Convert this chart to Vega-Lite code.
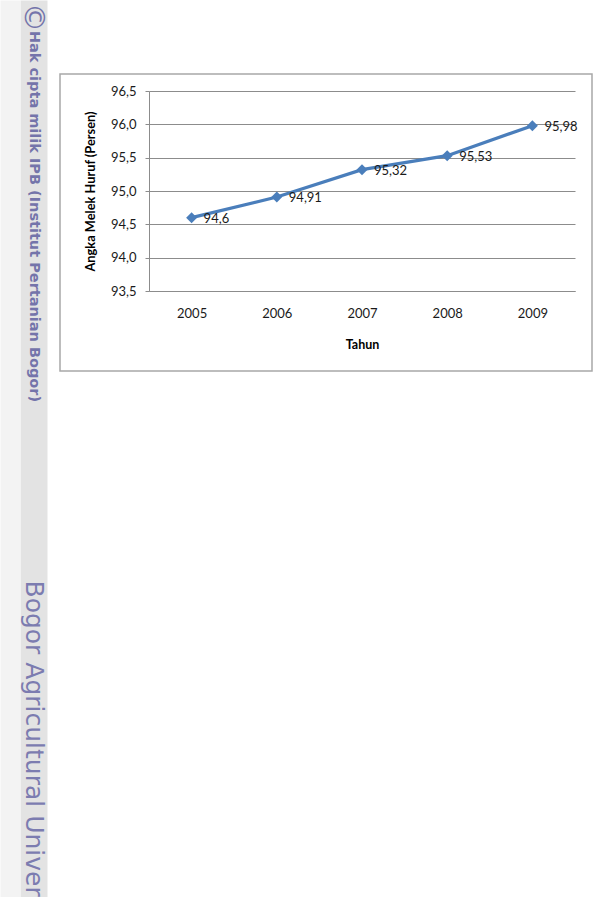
{
  "$schema": "https://vega.github.io/schema/vega-lite/v6.json",
  "width": 532,
  "height": 297,
  "autosize": {"type": "none"},
  "padding": {"left": 60, "top": 74, "right": 8, "bottom": 526},
  "background": "#ffffff",
  "view": {"stroke": "#a8a8a8", "strokeWidth": 1.5, "fill": null},
  "config": {
    "font": "Lato",
    "locale": {"number": {"decimal": ",", "thousands": ".", "grouping": [3], "currency": ["Rp", ""]}}
  },
  "data": {
    "values": [
      {"tahun": "2005", "nilai": 94.6},
      {"tahun": "2006", "nilai": 94.91},
      {"tahun": "2007", "nilai": 95.32},
      {"tahun": "2008", "nilai": 95.53},
      {"tahun": "2009", "nilai": 95.98}
    ]
  },
  "layer": [
    {
      "mark": {"type": "line", "color": "#4a7ebb", "strokeWidth": 3.2,
               "point": {"shape": "diamond", "size": 120, "filled": true, "color": "#4a7ebb", "opacity": 1}},
      "encoding": {
        "x": {
          "field": "tahun", "type": "ordinal",
          "scale": {"type": "point", "domain": ["2005", "2006", "2007", "2008", "2009"], "range": [89, 515], "padding": 0.5},
          "axis": {"orient": "bottom", "offset": -80, "grid": false, "ticks": false, "tickSize": 0,
                   "domain": true, "domainColor": "#8c8c8c", "domainWidth": 1,
                   "labelFont": "Lato", "labelFontSize": 13, "labelColor": "#1a1a1a", "labelPadding": 16, "labelAngle": 0,
                   "title": "Tahun", "titleFont": "Lato", "titleFontSize": 12.5, "titleFontWeight": "bold", "titleColor": "#000000", "titlePadding": 18}
        },
        "y": {
          "field": "nilai", "type": "quantitative",
          "scale": {"domain": [93.5, 96.5], "range": [217, 17], "nice": false, "zero": false},
          "axis": {"orient": "left", "offset": -89, "values": [93.5, 94, 94.5, 95, 95.5, 96, 96.5], "format": ".1f",
                   "grid": true, "gridColor": "#8c8c8c", "gridWidth": 1,
                   "domain": true, "domainColor": "#8c8c8c", "domainWidth": 1,
                   "ticks": true, "tickSize": 4, "tickColor": "#8c8c8c", "tickWidth": 1,
                   "labelFont": "Lato", "labelFontSize": 13, "labelColor": "#1a1a1a", "labelPadding": 9,
                   "title": "Angka Melek Huruf (Persen)", "titleFont": "Lato", "titleFontSize": 12.8, "titleFontWeight": "bold", "titleColor": "#000000", "titlePadding": 13}
        }
      }
    },
    {
      "mark": {"type": "text", "align": "left", "baseline": "middle", "dx": 12, "dy": 1, "font": "Lato", "fontSize": 13, "color": "#1a1a1a"},
      "encoding": {
        "x": {"field": "tahun", "type": "ordinal"},
        "y": {"field": "nilai", "type": "quantitative",
              "scale": {"domain": [93.5, 96.5], "range": [217, 17], "nice": false, "zero": false},
              "axis": null},
        "text": {"field": "nilai", "type": "quantitative", "format": "~g"}
      }
    },
    {
      "mark": {"type": "point", "opacity": 0},
      "encoding": {
        "x": {"field": "tahun", "type": "ordinal"},
        "y": {"field": "nilai", "type": "quantitative",
              "scale": {"domain": [0, 1], "range": [-74, 823], "nice": false, "zero": false},
              "axis": {"orient": "left", "offset": 26.5, "domain": true, "domainColor": "#e3e3e3", "domainWidth": 27,
                       "ticks": false, "labels": false, "grid": false,
                       "title": "Hak cipta milik IPB (Institut Pertanian Bogor)", "titleX": 0, "titleY": 142, "titleAngle": 90,
                       "titleAlign": "center", "titleBaseline": "middle", "titleFont": "DejaVu Sans", "titleFontSize": 14.5,
                       "titleFontWeight": "bold", "titleColor": "#7474aa"}}
      }
    },
    {
      "mark": {"type": "point", "opacity": 0},
      "encoding": {
        "x": {"field": "tahun", "type": "ordinal"},
        "y": {"field": "nilai", "type": "quantitative",
              "scale": {"domain": [0, 1], "range": [-74, 823], "nice": false, "zero": false},
              "axis": {"orient": "left", "offset": 50, "domain": true, "domainColor": "#f3f3f3", "domainWidth": 20,
                       "ticks": false, "labels": false, "grid": false,
                       "title": "Bogor Agricultural University", "titleX": 23.5, "titleY": 506, "titleAngle": 90,
                       "titleAlign": "left", "titleBaseline": "middle", "titleFont": "DejaVu Sans", "titleFontSize": 25,
                       "titleFontWeight": "normal", "titleColor": "#7c7cb0"}}
      }
    },
    {
      "mark": {"type": "point", "opacity": 0},
      "encoding": {
        "x": {"field": "tahun", "type": "ordinal"},
        "y": {"field": "nilai", "type": "quantitative",
              "scale": {"domain": [0, 1], "range": [-74, 823], "nice": false, "zero": false},
              "axis": {"orient": "left", "offset": 26.5, "domain": false,
                       "ticks": false, "labels": false, "grid": false,
                       "title": "©", "titleX": 0, "titleY": -57, "titleAngle": 90,
                       "titleAlign": "center", "titleBaseline": "middle", "titleFont": "DejaVu Sans", "titleFontSize": 29,
                       "titleFontWeight": "normal", "titleColor": "#7474aa"}}
      }
    }
  ],
  "resolve": {"scale": {"y": "independent"}}
}
